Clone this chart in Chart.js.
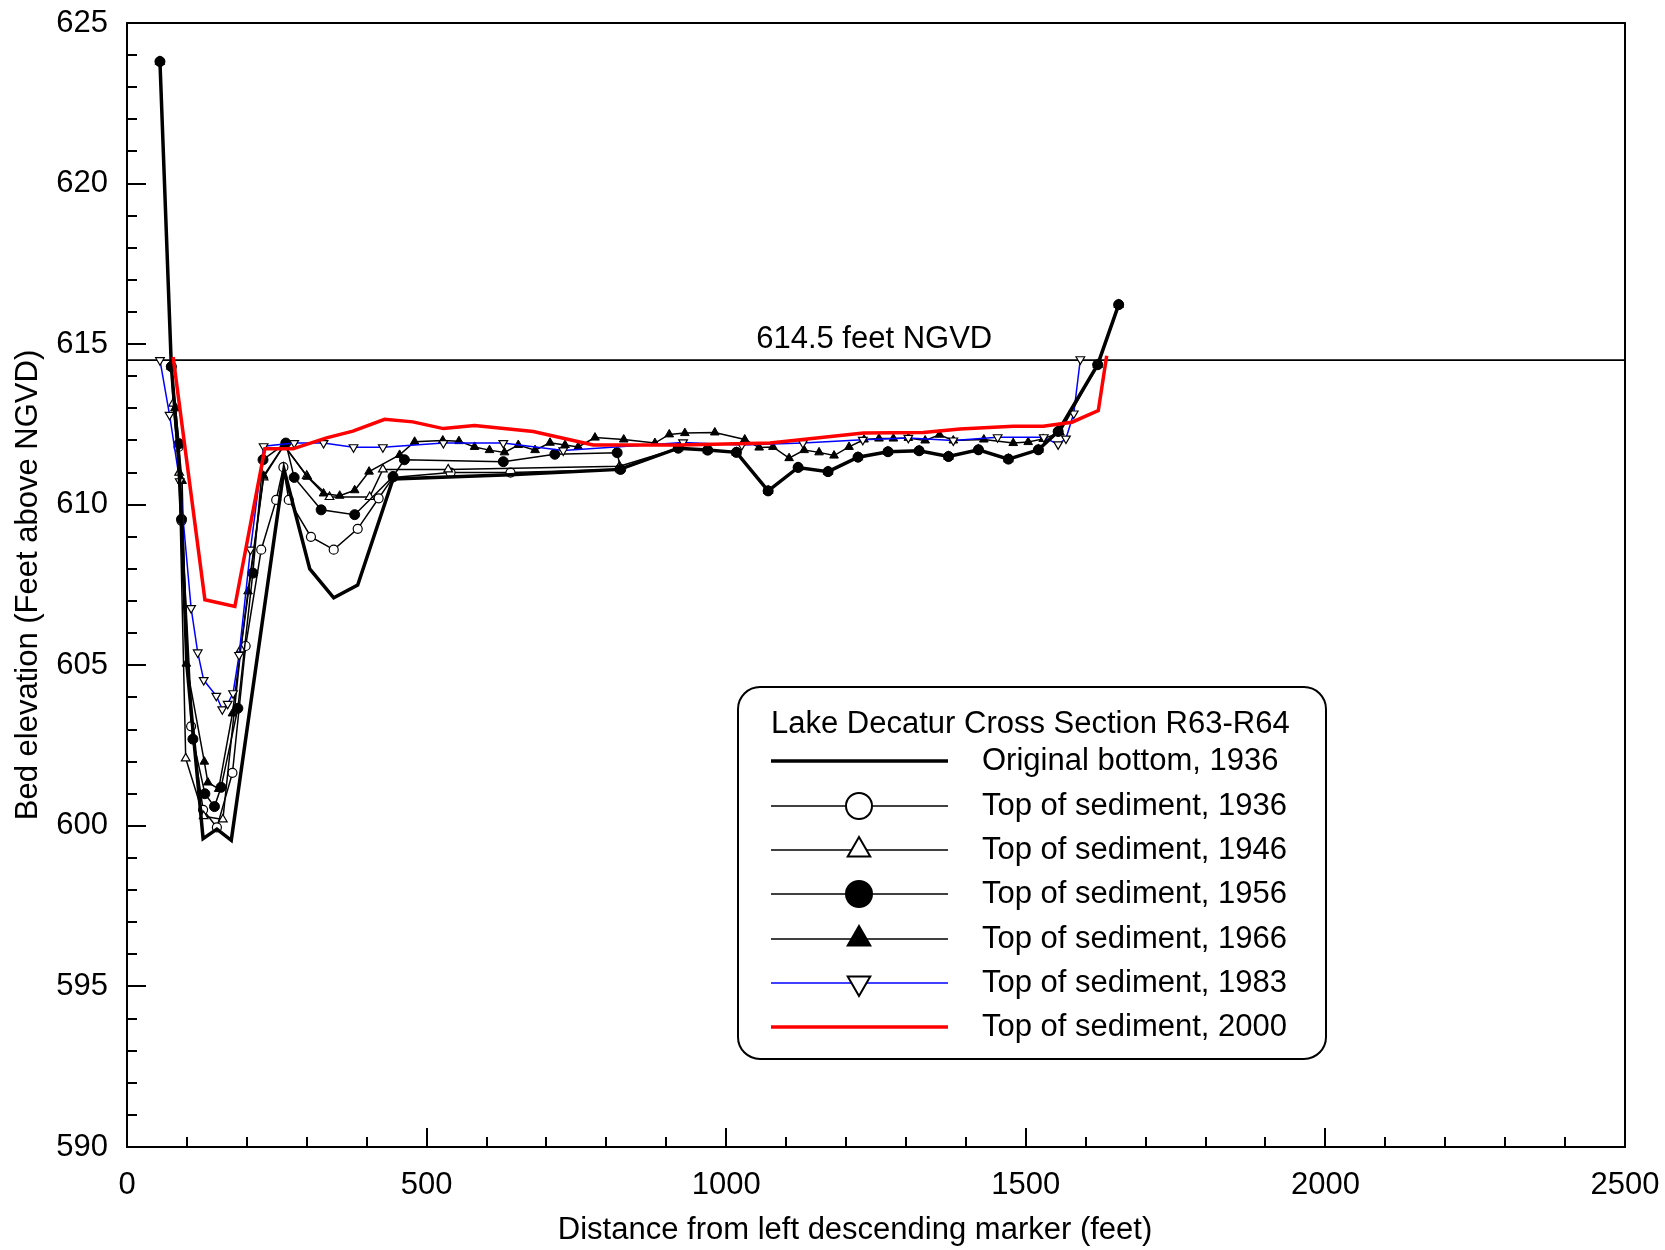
<!DOCTYPE html>
<html>
<head>
<meta charset="utf-8">
<script src="https://cdn.jsdelivr.net/npm/chart.js@4/dist/chart.umd.min.js"></script>
<style>
  body { margin: 0; background: #fff; }
  canvas { display: block; }
</style>
</head>
<body>
<canvas id="sectionChart" width="1665" height="1250"></canvas>
<script>
// values (distance ft, elevation ft NGVD)
const bottomX = [55, 74, 85, 91, 100, 127, 150, 174, 262, 305, 345, 385, 444, 640, 822, 920, 969, 1017, 1070, 1120, 1170, 1220, 1270, 1322, 1371, 1421, 1471, 1521, 1554, 1620, 1655];
const bottomY = [623.8, 614.3, 611.8, 609.5, 605.0, 599.6, 599.9, 599.55, 611.1, 608.0, 607.1, 607.5, 610.8, 610.93, 611.1, 611.76, 611.7, 611.63, 610.43, 611.16, 611.03, 611.48, 611.65, 611.68, 611.5, 611.71, 611.42, 611.71, 612.28, 614.36, 616.23];

const sed1936X = [55, 74, 86, 91, 107, 127, 150, 176, 198, 224, 249, 261, 270, 307, 345, 385, 420, 444, 540, 640, 822, 920, 969, 1017, 1070, 1120, 1170, 1220, 1270, 1322, 1371, 1421, 1471, 1521, 1554, 1620, 1655];
const sed1936Y = [623.8, 614.3, 611.8, 609.5, 603.1, 600.5, 599.95, 601.65, 605.6, 608.6, 610.15, 611.17, 610.15, 609.0, 608.6, 609.25, 610.2, 610.85, 611.0, 611.0, 611.1, 611.76, 611.7, 611.63, 610.43, 611.16, 611.03, 611.48, 611.65, 611.68, 611.5, 611.71, 611.42, 611.71, 612.28, 614.36, 616.23];

const sed1946X = [55, 74, 77, 87, 98, 128, 160, 190, 228, 262, 300, 338, 405, 427, 536, 822, 920, 969, 1017, 1070, 1120, 1170, 1220, 1270, 1322, 1371, 1421, 1471, 1521, 1554, 1620, 1655];
const sed1946Y = [623.8, 614.3, 613.15, 611.0, 602.1, 600.3, 600.2, 605.5, 610.85, 611.85, 610.9, 610.24, 610.24, 611.1, 611.1, 611.2, 611.76, 611.7, 611.63, 610.43, 611.16, 611.03, 611.48, 611.65, 611.68, 611.5, 611.71, 611.42, 611.71, 612.28, 614.36, 616.23];

const sed1956X = [55, 74, 87, 91, 110, 130, 146, 157, 185, 210, 227, 265, 279, 324, 380, 444, 463, 628, 714, 818, 824, 920, 969, 1017, 1070, 1120, 1170, 1220, 1270, 1322, 1371, 1421, 1471, 1521, 1554, 1620, 1655];
const sed1956Y = [623.8, 614.3, 611.9, 609.55, 602.7, 601.0, 600.6, 601.2, 603.66, 607.87, 611.4, 611.92, 610.85, 609.84, 609.69, 610.88, 611.4, 611.34, 611.57, 611.62, 611.1, 611.76, 611.7, 611.63, 610.43, 611.16, 611.03, 611.48, 611.65, 611.68, 611.5, 611.71, 611.42, 611.71, 612.28, 614.36, 616.23];

const sed1966X = [55, 74, 80, 92, 99, 129, 135, 153, 176, 202, 228, 262, 301, 328, 355, 380, 404, 455, 480, 527, 554, 580, 605, 630, 653, 681, 706, 731, 753, 781, 829, 881, 905, 931, 981, 1031, 1055, 1078, 1105, 1130, 1155, 1180, 1205, 1230, 1255, 1279, 1304, 1332, 1356, 1379, 1430, 1479, 1504, 1529, 1557, 1620, 1655];
const sed1966Y = [623.8, 614.3, 613.0, 610.74, 605.05, 602.0, 601.35, 601.15, 603.5, 607.3, 610.9, 611.85, 610.87, 610.35, 610.28, 610.45, 611.03, 611.55, 611.96, 612.0, 611.98, 611.8, 611.7, 611.63, 611.86, 611.7, 611.93, 611.86, 611.8, 612.09, 612.03, 611.92, 612.19, 612.23, 612.25, 612.03, 611.78, 611.8, 611.45, 611.7, 611.63, 611.53, 611.8, 612.03, 612.06, 612.06, 612.08, 612.0, 612.18, 612.0, 612.03, 611.92, 611.95, 612.05, 612.25, 614.36, 616.23];

const sed1983X = [55, 71, 88, 107, 118, 128, 149, 159, 168, 177, 187, 206, 228, 279, 328, 378, 427, 528, 628, 728, 928, 1026, 1128, 1228, 1304, 1379, 1453, 1530, 1554, 1567, 1580, 1591];
const sed1983Y = [614.5, 612.8, 610.73, 606.78, 605.4, 604.54, 604.05, 603.63, 603.8, 604.13, 605.32, 608.6, 611.82, 611.92, 611.92, 611.79, 611.79, 611.92, 611.92, 611.69, 611.94, 611.86, 611.92, 612.02, 612.08, 612.0, 612.1, 612.1, 611.88, 612.06, 612.84, 614.53];

const sed2000X = [77, 130, 180, 230, 277, 333, 377, 430, 477, 528, 580, 678, 778, 923, 1073, 1229, 1329, 1390, 1479, 1529, 1577, 1621, 1635];
const sed2000Y = [614.6, 607.04, 606.83, 611.74, 611.74, 612.08, 612.29, 612.66, 612.58, 612.37, 612.47, 612.28, 611.86, 611.86, 611.92, 612.23, 612.25, 612.36, 612.44, 612.44, 612.57, 612.93, 614.64];

const poolLevel = 614.5;
const poolLabel = '614.5 feet NGVD';
const legendTitle = 'Lake Decatur Cross Section R63-R64';
const xTitle = 'Distance from left descending marker (feet)';
const yTitle = 'Bed elevation (Feet above NGVD)';

const FONT = 'Liberation Sans, Arial, sans-serif';
Chart.defaults.font.family = FONT;
Chart.defaults.color = '#000';

function pts(xs, ys) {
    return xs.map((x, i) => ({ x: x, y: ys[i] }));
}

const datasets = [
    {
        label: 'Original bottom, 1936',
        data: pts(bottomX, bottomY),
        borderColor: '#000', borderWidth: 3.5, pointRadius: 0, order: 1
    },
    {
        label: 'Top of sediment, 1936',
        data: pts(sed1936X, sed1936Y),
        borderColor: '#000', borderWidth: 1.5,
        pointStyle: 'circle', pointRadius: 4.5, pointBackgroundColor: '#fff',
        pointBorderColor: '#000', pointBorderWidth: 1.2, order: 6
    },
    {
        label: 'Top of sediment, 1946',
        data: pts(sed1946X, sed1946Y),
        borderColor: '#000', borderWidth: 1.5,
        pointStyle: 'triangle', pointRadius: 5, pointBackgroundColor: '#fff',
        pointBorderColor: '#000', pointBorderWidth: 1.2, order: 5
    },
    {
        label: 'Top of sediment, 1956',
        data: pts(sed1956X, sed1956Y),
        borderColor: '#000', borderWidth: 1.5,
        pointStyle: 'circle', pointRadius: 5, pointBackgroundColor: '#000',
        pointBorderColor: '#000', pointBorderWidth: 1, order: 4
    },
    {
        label: 'Top of sediment, 1966',
        data: pts(sed1966X, sed1966Y),
        borderColor: '#000', borderWidth: 1.5,
        pointStyle: 'triangle', pointRadius: 5, pointBackgroundColor: '#000',
        pointBorderColor: '#000', pointBorderWidth: 1, order: 3
    },
    {
        label: 'Top of sediment, 1983',
        data: pts(sed1983X, sed1983Y),
        borderColor: '#0000ff', borderWidth: 1.5,
        pointStyle: 'triangle', pointRotation: 180, pointRadius: 5, pointBackgroundColor: '#fff',
        pointBorderColor: '#000', pointBorderWidth: 1.2, order: 2
    },
    {
        label: 'Top of sediment, 2000',
        data: pts(sed2000X, sed2000Y),
        borderColor: '#ff0000', borderWidth: 3.5, pointRadius: 0, order: 0
    }
];

// ticks pointing inward, frame, pool line and the x title (off-centre in the original)
const axisDecor = {
    id: 'axisDecor',
    beforeDatasetsDraw(chart) {
        const { ctx, chartArea: a, scales: { x, y } } = chart;
        ctx.save();
        ctx.strokeStyle = '#000';
        ctx.lineWidth = 1.8;
        const py = y.getPixelForValue(poolLevel);
        ctx.beginPath();
        ctx.moveTo(a.left, py);
        ctx.lineTo(a.right, py);
        ctx.stroke();
        ctx.font = '31px ' + FONT;
        ctx.fillStyle = '#000';
        ctx.textAlign = 'center';
        ctx.textBaseline = 'middle';
        ctx.fillText(poolLabel, x.getPixelForValue(1247), py - 21);
        ctx.fillText(xTitle, x.getPixelForValue(1215), 1230);
        ctx.restore();
    },
    afterDraw(chart) {
        const { ctx, chartArea: a, scales: { x, y } } = chart;
        ctx.save();
        ctx.strokeStyle = '#000';
        ctx.lineWidth = 2;
        ctx.beginPath();
        for (let v = 590; v <= 625; v++) {
            const p = Math.round(y.getPixelForValue(v));
            const len = v % 5 === 0 ? 19 : 10;
            ctx.moveTo(a.left, p);
            ctx.lineTo(a.left + len, p);
        }
        for (let v = 0; v <= 2500; v += 100) {
            const p = Math.round(x.getPixelForValue(v));
            const len = v % 500 === 0 ? 19 : 10;
            ctx.moveTo(p, a.bottom);
            ctx.lineTo(p, a.bottom - len);
        }
        ctx.stroke();
        ctx.strokeRect(a.left, a.top, a.right - a.left, a.bottom - a.top);
        ctx.restore();
    }
};

// boxed legend with the line + marker samples
const boxLegend = {
    id: 'boxLegend',
    afterDraw(chart) {
        const ctx = chart.ctx;
        const bx = 738, by = 687, bw = 588, bh = 372;
        ctx.save();
        ctx.fillStyle = '#fff';
        ctx.strokeStyle = '#000';
        ctx.lineWidth = 2;
        ctx.beginPath();
        ctx.roundRect(bx, by, bw, bh, 22);
        ctx.fill();
        ctx.stroke();

        ctx.fillStyle = '#000';
        ctx.font = '31px ' + FONT;
        ctx.textAlign = 'left';
        ctx.textBaseline = 'middle';
        ctx.fillText(legendTitle, 771, 724);

        const rowY = [761, 806, 850, 894, 939, 983, 1027];
        chart.data.datasets.forEach((ds, i) => {
            const yy = rowY[i];
            ctx.strokeStyle = ds.borderColor;
            ctx.lineWidth = ds.borderWidth;
            ctx.beginPath();
            ctx.moveTo(771, yy);
            ctx.lineTo(948, yy);
            ctx.stroke();
            if (ds.pointRadius > 0) {
                ctx.fillStyle = ds.pointBackgroundColor;
                ctx.strokeStyle = ds.pointBorderColor;
                ctx.lineWidth = 2;
                Chart.helpers.drawPoint(ctx, {
                    pointStyle: ds.pointStyle,
                    rotation: ds.pointRotation || 0,
                    radius: 13,
                    borderWidth: 2
                }, 859, yy);
            }
            ctx.fillStyle = '#000';
            ctx.fillText(ds.label, 982, yy);
        });
        ctx.restore();
    }
};

function noPad(s) {
    s.paddingLeft = 0; s.paddingRight = 0; s.paddingTop = 0; s.paddingBottom = 0;
}

new Chart(document.getElementById('sectionChart').getContext('2d'), {
    type: 'line',
    data: { datasets: datasets },
    plugins: [axisDecor, boxLegend],
    options: {
        responsive: false,
        animation: false,
        layout: { padding: { top: 23, right: 40, left: 0, bottom: 0 } },
        plugins: { legend: { display: false }, tooltip: { enabled: false } },
        elements: { line: { tension: 0, fill: false } },
        scales: {
            x: {
                type: 'linear', min: 0, max: 2500,
                grid: { display: false },
                border: { display: false },
                ticks: {
                    stepSize: 500, autoSkip: false, maxRotation: 0, padding: 12, font: { size: 31 },
                    callback: v => String(v)
                },
                afterFit(s) { s.height = 103; noPad(s); }
            },
            y: {
                type: 'linear', min: 590, max: 625,
                grid: { display: false },
                border: { display: false },
                ticks: { stepSize: 5, padding: 11, font: { size: 31 }, callback: v => String(v) },
                title: {
                    display: true,
                    text: yTitle,
                    font: { size: 31 }, padding: { top: 10, bottom: 0 }
                },
                afterFit(s) { s.width = 127; noPad(s); }
            }
        }
    }
});
</script>
</body>
</html>
